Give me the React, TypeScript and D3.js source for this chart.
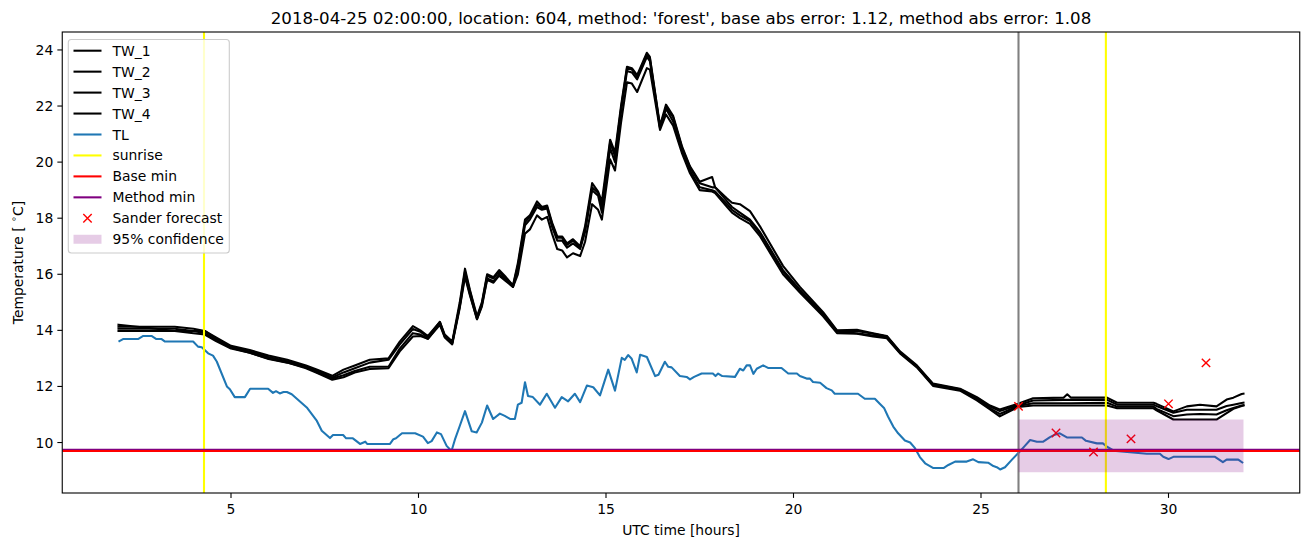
import React from 'react';
import * as d3 from 'd3';

// ---------- data ----------
const TW_TIME = [2.0, 2.5, 3.0, 3.5, 4.0, 4.3, 4.6, 5.0, 5.5, 6.0, 6.5, 7.0, 7.3, 7.7, 8.0, 8.3, 8.7, 9.2, 9.5, 9.85,
  10.05, 10.25, 10.57, 10.7, 10.9, 11.1, 11.24, 11.37, 11.56, 11.69, 11.83, 12.0, 12.15, 12.33, 12.52, 12.65, 12.84, 12.97, 13.16, 13.29,
  13.43, 13.56, 13.7, 13.83, 13.96, 14.12, 14.31, 14.44, 14.63, 14.79, 14.89, 15.11, 15.24, 15.4, 15.56, 15.69, 15.83, 16.09, 16.17, 16.44,
  16.6, 16.79, 17.03, 17.24, 17.5, 17.83, 17.91, 18.23, 18.36, 18.57, 18.84, 19.11, 19.72, 20.17, 20.79, 21.16, 21.69, 22.12, 22.49, 22.84,
  23.29, 23.72, 24.44, 24.89, 25.24, 25.5, 25.99, 26.39, 27.2, 27.3, 27.4, 28.36, 28.63, 29.6, 29.68, 30.13, 30.49, 30.84, 31.28, 31.55,
  31.73, 31.95, 32.0];
const TW_1 = [14.2, 14.13, 14.13, 14.13, 14.06, 13.98, 13.75, 13.45, 13.3, 13.1, 12.95, 12.75, 12.6, 12.38, 12.6, 12.75, 12.95, 13.0, 13.6, 14.15,
  14.0, 13.8, 14.3, 13.85, 13.6, 15.0, 16.2, 15.45, 14.5, 15.0, 16.0, 15.9, 16.15, 15.9, 15.6, 16.4, 17.95, 18.1, 18.6, 18.4,
  18.45, 17.85, 17.35, 17.35, 17.1, 17.25, 17.0, 17.7, 19.25, 18.95, 18.6, 20.8, 20.35, 22.0, 23.4, 23.35, 23.1, 23.9, 23.75, 21.3,
  22.05, 21.65, 20.55, 19.85, 19.3, 19.47, 19.1, 18.7, 18.55, 18.5, 18.25, 17.7, 16.3, 15.55, 14.65, 14.0, 14.02, 13.9, 13.8, 13.25,
  12.75, 12.1, 11.92, 11.62, 11.32, 11.18, 11.38, 11.58, 11.6, 11.72, 11.6, 11.6, 11.42, 11.42, 11.38, 11.11, 11.29, 11.35, 11.29, 11.53,
  11.6, 11.73, 11.74];
const TW_2 = [14.13, 14.13, 14.06, 14.06, 13.98, 13.98, 13.7, 13.42, 13.25, 13.05, 12.9, 12.72, 12.55, 12.32, 12.5, 12.65, 12.85, 12.95, 13.5, 14.05,
  13.95, 13.75, 14.3, 13.8, 13.55, 14.9, 16.1, 15.4, 14.45, 14.95, 15.95, 15.85, 16.1, 15.85, 15.6, 16.3, 17.85, 18.05, 18.5, 18.35,
  18.4, 17.8, 17.3, 17.3, 17.05, 17.2, 16.95, 17.6, 19.1, 18.9, 18.4, 20.7, 20.2, 21.9, 23.35, 23.3, 23.05, 23.85, 23.7, 21.25,
  21.95, 21.6, 20.5, 19.8, 19.25, 19.1, 19.1, 18.6, 18.4, 18.2, 17.95, 17.5, 16.15, 15.45, 14.6, 13.98, 13.98, 13.88, 13.78, 13.22,
  12.72, 12.08, 11.9, 11.58, 11.28, 11.12, 11.33, 11.5, 11.52, 11.52, 11.52, 11.52, 11.35, 11.35, 11.3, 11.06, 11.17, 11.17, 11.17, 11.3,
  11.35, 11.41, 11.42];
const TW_3 = [14.06, 14.06, 14.06, 13.98, 13.98, 13.9, 13.65, 13.38, 13.2, 13.0, 12.85, 12.68, 12.5, 12.28, 12.4, 12.55, 12.7, 12.7, 13.35, 13.9,
  13.85, 13.7, 14.25, 13.78, 13.55, 14.85, 16.0, 15.3, 14.4, 14.9, 15.85, 15.75, 16.0, 15.8, 15.55, 16.2, 17.75, 17.95, 18.4, 18.3,
  18.35, 17.7, 17.2, 17.2, 16.95, 17.1, 16.9, 17.5, 19.0, 18.8, 18.2, 20.5, 20.0, 21.8, 23.25, 23.2, 22.95, 23.75, 23.6, 21.2,
  21.9, 21.45, 20.4, 19.7, 19.1, 19.0, 18.95, 18.5, 18.3, 18.1, 17.9, 17.45, 16.1, 15.4, 14.55, 13.95, 13.9, 13.82, 13.75, 13.2,
  12.7, 12.05, 11.88, 11.55, 11.22, 11.02, 11.3, 11.4, 11.4, 11.4, 11.4, 11.42, 11.28, 11.28, 11.2, 10.94, 11.0, 11.02, 11.0, 11.15,
  11.23, 11.32, 11.33];
const TW_4 = [13.98, 13.98, 13.98, 13.98, 13.9, 13.85, 13.62, 13.35, 13.2, 12.98, 12.85, 12.65, 12.48, 12.24, 12.33, 12.5, 12.62, 12.65, 13.25, 13.78,
  13.8, 13.7, 14.2, 13.75, 13.5, 14.8, 15.9, 15.25, 14.4, 14.85, 15.8, 15.7, 15.95, 15.75, 15.55, 16.0, 17.45, 17.6, 18.1, 17.95,
  18.05, 17.45, 16.9, 16.85, 16.6, 16.75, 16.65, 17.15, 18.5, 18.3, 17.95, 20.1, 19.7, 21.4, 22.85, 22.8, 22.5, 23.35, 23.3, 21.15,
  21.7, 21.3, 20.3, 19.6, 19.0, 18.95, 18.9, 18.4, 18.2, 18.0, 17.8, 17.35, 16.0, 15.35, 14.5, 13.9, 13.88, 13.78, 13.72, 13.18,
  12.68, 12.02, 11.85, 11.5, 11.18, 10.93, 11.27, 11.32, 11.32, 11.32, 11.32, 11.32, 11.22, 11.22, 11.15, 10.82, 10.82, 10.82, 10.82, 11.05,
  11.2, 11.3, 11.32];
const TW_SERIES = [TW_1, TW_2, TW_3, TW_4];
const TW_NAMES = ['TW_1', 'TW_2', 'TW_3', 'TW_4'];

const TL_TIME = [2.0, 2.12, 2.52, 2.66, 2.88, 3.01, 3.15, 3.24, 3.99, 4.12, 4.22, 4.39, 4.52, 4.62, 4.89, 4.97, 5.1, 5.37, 5.51, 5.99,
  6.12, 6.2, 6.3, 6.4, 6.49, 6.62, 7.02, 7.29, 7.42, 7.64, 7.72, 7.99, 8.07, 8.25, 8.44, 8.58, 8.63, 9.24, 9.33, 9.4,
  9.56, 9.91, 10.12, 10.25, 10.35, 10.49, 10.6, 10.75, 10.88, 10.97, 11.1, 11.24, 11.42, 11.55, 11.69, 11.83, 11.99, 12.17, 12.3, 12.44,
  12.57, 12.65, 12.75, 12.84, 12.92, 13.05, 13.24, 13.42, 13.64, 13.82, 13.99, 14.17, 14.31, 14.49, 14.66, 14.84, 15.06, 15.24, 15.42, 15.5,
  15.59, 15.68, 15.82, 15.91, 16.09, 16.31, 16.4, 16.57, 16.66, 16.75, 16.97, 17.15, 17.24, 17.35, 17.55, 17.85, 17.92, 17.99, 18.1, 18.44,
  18.57, 18.66, 18.75, 18.84, 18.93, 19.02, 19.19, 19.32, 19.68, 19.86, 20.09, 20.17, 20.35, 20.44, 20.52, 20.71, 20.88, 21.02, 21.1, 21.72,
  21.9, 22.17, 22.3, 22.42, 22.52, 22.66, 22.79, 22.97, 23.11, 23.24, 23.37, 23.51, 23.73, 24.0, 24.13, 24.31, 24.62, 24.79, 24.93, 25.19,
  25.33, 25.42, 25.51, 25.64, 25.82, 25.99, 26.17, 26.31, 26.49, 26.66, 26.84, 26.97, 27.1, 27.29, 27.69, 27.8, 28.09, 28.25, 28.36, 28.52,
  28.6, 29.42, 29.77, 29.86, 30.0, 30.13, 31.24, 31.45, 31.55, 31.86, 31.99];
const TL_VALUES = [13.6, 13.69, 13.69, 13.8, 13.8, 13.69, 13.69, 13.6, 13.6, 13.42, 13.4, 13.18, 13.1, 12.89, 12.0, 11.9, 11.62, 11.62, 11.92, 11.92,
  11.77, 11.83, 11.75, 11.8, 11.8, 11.72, 11.25, 10.77, 10.42, 10.16, 10.27, 10.27, 10.15, 10.15, 9.95, 10.03, 9.95, 9.95, 10.12, 10.15,
  10.33, 10.33, 10.21, 9.98, 10.05, 10.36, 10.3, 9.88, 9.7, 10.1, 10.59, 11.12, 10.4, 10.36, 10.71, 11.32, 10.84, 11.03, 10.95, 10.84,
  10.84, 11.35, 11.42, 12.15, 11.66, 11.62, 11.35, 11.74, 11.24, 11.62, 11.47, 11.74, 11.44, 12.03, 11.97, 11.68, 12.6, 11.85, 13.02, 12.95,
  13.12, 13.0, 12.5, 13.13, 13.05, 12.37, 12.42, 12.88, 12.7, 12.68, 12.37, 12.34, 12.25, 12.34, 12.46, 12.46, 12.37, 12.46, 12.37, 12.34,
  12.63, 12.57, 12.75, 12.75, 12.45, 12.63, 12.75, 12.66, 12.66, 12.46, 12.46, 12.37, 12.28, 12.28, 12.16, 12.13, 11.94, 11.86, 11.74, 11.74,
  11.56, 11.56, 11.38, 11.22, 10.93, 10.57, 10.33, 10.07, 10.0, 9.8, 9.48, 9.26, 9.09, 9.09, 9.2, 9.32, 9.32, 9.4, 9.3, 9.28,
  9.16, 9.12, 9.04, 9.12, 9.38, 9.62, 9.88, 10.09, 10.03, 10.03, 10.19, 10.28, 10.33, 10.18, 10.18, 10.06, 9.97, 9.97, 9.85, 9.73,
  9.7, 9.6, 9.6, 9.49, 9.41, 9.49, 9.49, 9.3, 9.39, 9.39, 9.27];

const SUNRISE_TIMES = [4.28, 28.33];
const FORECAST_START = 26;
const BASE_MIN = 9.7;
const METHOD_MIN = 9.745;
const SANDER_TIME = [26, 27, 28, 29, 30, 31];
const SANDER_VALUES = [11.29, 10.34, 9.66, 10.13, 11.38, 12.84];
const CONF_TIME = [26, 32];
const CONF_LOW = [8.94, 8.94];
const CONF_HIGH = [10.82, 10.82];
const X_TICKS = [5, 10, 15, 20, 25, 30];
const Y_TICKS = [10, 12, 14, 16, 18, 20, 22, 24];
const TITLE = "2018-04-25 02:00:00, location: 604, method: 'forest', base abs error: 1.12, method abs error: 1.08";

// ---------- layout ----------
const W = 1311;
const H = 547;
const L = 62.25, R = 1299.75, T = 32, B = 493;
const FONT = 'DejaVu Sans, sans-serif';
const FS = 13.9;

export default function App() {
  const x = d3.scaleLinear().domain([0.5, 33.5]).range([L, R]);
  const y = d3.scaleLinear().domain([8.2, 24.64]).range([B, T]);

  const mkLine = (ts: number[], vs: number[]) =>
    d3.line<number>().x((_, i) => x(ts[i])).y((v) => y(v))(vs) || '';

  const confArea = d3.area<number>()
    .x((_, i) => x(CONF_TIME[i]))
    .y0((_, i) => y(CONF_LOW[i]))
    .y1((v) => y(v))(CONF_HIGH) || '';

  const legendItems = [
    ...TW_NAMES.map((n) => ({ label: n, kind: 'line', color: '#000000' })),
    { label: 'TL', kind: 'line', color: '#1f77b4' },
    { label: 'sunrise', kind: 'line', color: '#ffff00' },
    { label: 'Base min', kind: 'line', color: '#ff0000' },
    { label: 'Method min', kind: 'line', color: '#800080' },
    { label: 'Sander forecast', kind: 'x', color: '#ff0000' },
    { label: '95% confidence', kind: 'patch', color: '#800080' },
  ];

  const xm = 4.2;

  return (
    <svg width={W} height={H} style={{ position: 'absolute', left: 0, top: 0, background: '#fff' }}
      fontFamily={FONT}>
      <rect x={0} y={0} width={W} height={H} fill="#fff" />
      <defs>
        <clipPath id="plotclip">
          <rect x={L} y={T} width={R - L} height={B - T} />
        </clipPath>
      </defs>
      <g clipPath="url(#plotclip)">
        {TW_SERIES.map((s, i) => (
          <path key={i} d={mkLine(TW_TIME, s)} fill="none" stroke="#000" strokeWidth={2.08} strokeLinejoin="round" strokeLinecap="square" />
        ))}
        <path d={mkLine(TL_TIME, TL_VALUES)} fill="none" stroke="#1f77b4" strokeWidth={2.08} strokeLinejoin="round" />
        {SUNRISE_TIMES.map((t, i) => (
          <line key={i} x1={x(t)} x2={x(t)} y1={T} y2={B} stroke="#ffff00" strokeWidth={2.08} />
        ))}
        <line x1={x(FORECAST_START)} x2={x(FORECAST_START)} y1={T} y2={B} stroke="#808080" strokeWidth={2.08} />
        <line x1={L} x2={R} y1={y(METHOD_MIN)} y2={y(METHOD_MIN)} stroke="#800080" strokeWidth={2.08} />
        <line x1={L} x2={R} y1={y(BASE_MIN)} y2={y(BASE_MIN)} stroke="#ff0000" strokeWidth={2.08} />
        {SANDER_TIME.map((t, i) => {
          const cx = x(t), cy = y(SANDER_VALUES[i]);
          return (
            <path key={i} d={`M${cx - xm},${cy - xm}L${cx + xm},${cy + xm}M${cx - xm},${cy + xm}L${cx + xm},${cy - xm}`}
              stroke="#ff0000" strokeWidth={1.4} fill="none" />
          );
        })}
        <path d={confArea} fill="#800080" fillOpacity={0.2} stroke="none" />
      </g>

      {/* axes frame */}
      <rect x={L} y={T} width={R - L} height={B - T} fill="none" stroke="#000" strokeWidth={1.1} />

      {X_TICKS.map((t) => (
        <g key={t}>
          <line x1={x(t)} x2={x(t)} y1={B} y2={B + 4.9} stroke="#000" strokeWidth={1.1} />
          <text x={x(t)} y={B + 20.5} textAnchor="middle" fontSize={FS} fill="#000">{t}</text>
        </g>
      ))}
      {Y_TICKS.map((t) => (
        <g key={t}>
          <line x1={L - 4.9} x2={L} y1={y(t)} y2={y(t)} stroke="#000" strokeWidth={1.1} />
          <text x={L - 9.0} y={y(t) + 5} textAnchor="end" fontSize={FS} fill="#000">{t}</text>
        </g>
      ))}

      <text x={(L + R) / 2} y={535} textAnchor="middle" fontSize={FS} fill="#000">UTC time [hours]</text>
      <text transform={`translate(23,${(T + B) / 2}) rotate(-90)`} textAnchor="middle" fontSize={FS} fill="#000">
        Temperature [ <tspan fontSize={9.7} dy={-6}>∘</tspan><tspan dy={6}>C]</tspan>
      </text>
      <text x={(L + R) / 2} y={24} textAnchor="middle" fontSize={16.67} fill="#000">{TITLE}</text>

      {/* legend */}
      <g>
        <rect x={68.3} y={39.5} width={161} height={213.5} rx={3} ry={3} fill="#fff" fillOpacity={0.8} stroke="#cccccc" strokeWidth={1.1} />
        {legendItems.map((it, i) => {
          const cy = 50.7 + i * 20.95;
          let handle: React.ReactNode = null;
          if (it.kind === 'line') {
            handle = <line x1={73.5} x2={101.5} y1={cy} y2={cy} stroke={it.color} strokeWidth={2.08} />;
          } else if (it.kind === 'x') {
            const cx = 87.5;
            handle = <path d={`M${cx - xm},${cy - xm}L${cx + xm},${cy + xm}M${cx - xm},${cy + xm}L${cx + xm},${cy - xm}`} stroke={it.color} strokeWidth={1.4} />;
          } else {
            handle = <rect x={73.5} y={cy - 4.5} width={28} height={9} fill={it.color} fillOpacity={0.2} />;
          }
          return (
            <g key={it.label}>
              {handle}
              <text x={112.5} y={cy + 5} fontSize={FS} fill="#000">{it.label}</text>
            </g>
          );
        })}
      </g>
    </svg>
  );
}
